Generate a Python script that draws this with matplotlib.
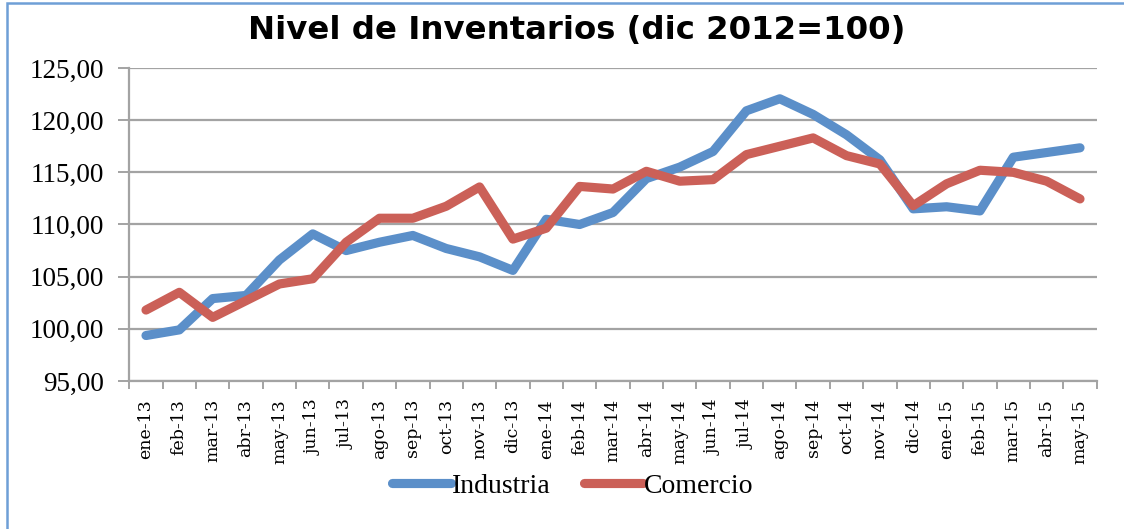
import matplotlib
matplotlib.use("Agg")
import matplotlib.pyplot as plt
from matplotlib.ticker import FixedLocator, FuncFormatter
from matplotlib.patches import Rectangle

months = ["ene-13", "feb-13", "mar-13", "abr-13", "may-13", "jun-13", "jul-13", "ago-13",
          "sep-13", "oct-13", "nov-13", "dic-13", "ene-14", "feb-14", "mar-14", "abr-14",
          "may-14", "jun-14", "jul-14", "ago-14", "sep-14", "oct-14", "nov-14", "dic-14",
          "ene-15", "feb-15", "mar-15", "abr-15", "may-15"]
industria = [99.36, 99.9, 102.9, 103.2, 106.6, 109.1, 107.5, 108.3, 108.95, 107.7, 106.9, 105.6,
             110.5, 110.0, 111.15, 114.4, 115.5, 117.0, 120.9, 122.05, 120.55, 118.6, 116.2,
             111.5, 111.7, 111.3, 116.45, 116.9, 117.35]
comercio = [101.8, 103.5, 101.1, 102.7, 104.3, 104.8, 108.3, 110.6, 110.6, 111.75, 113.6, 108.6,
            109.65, 113.65, 113.4, 115.1, 114.15, 114.3, 116.7, 117.5, 118.3, 116.6, 115.8,
            111.8, 113.9, 115.2, 115.0, 114.15, 112.45]
yticks = [95, 100, 105, 110, 115, 120, 125]
title = "Nivel de Inventarios (dic 2012=100)"

W, H = 1124, 529
fig = plt.figure(figsize=(W / 100, H / 100), dpi=100)
ax = fig.add_axes([129.3 / W, 1 - 381 / H, (1096.7 - 129.3) / W, (381 - 68) / H])

blue = "#5b8fc9"
red = "#cb6058"
grid_c = "#a3a3a3"
x = list(range(len(months)))
kw = dict(linewidth=6.6, solid_capstyle="round", solid_joinstyle="round")
ax.plot(x, industria, color=blue, label="Industria", **kw)
ax.plot(x, comercio, color=red, label="Comercio", **kw)

ax.set_xlim(-0.5, len(months) - 0.5)
ax.set_ylim(95, 125)
ax.set_yticks(yticks)
ax.yaxis.set_major_formatter(FuncFormatter(lambda v, p: f"{v:.2f}".replace(".", ",")))
ax.yaxis.grid(True, color=grid_c, linewidth=1.6)
ax.set_axisbelow(True)

ax.set_xticks(x)
ax.set_xticklabels(months, rotation=90, fontfamily="DejaVu Serif", fontsize=12.5)
ax.xaxis.set_minor_locator(FixedLocator([i - 0.5 for i in range(len(months) + 1)]))
ax.tick_params(axis="x", which="major", length=0, pad=13)
ax.tick_params(axis="x", which="minor", length=6, width=1.4, color=grid_c, direction="out")
ax.tick_params(axis="y", length=8, width=1.4, color=grid_c, direction="out", pad=10)
for lab in ax.get_yticklabels():
    lab.set_fontfamily("Liberation Serif")
    lab.set_fontsize(19.5)

for s in ["top", "right"]:
    ax.spines[s].set_visible(False)
for s in ["left", "bottom"]:
    ax.spines[s].set_color(grid_c)
    ax.spines[s].set_linewidth(1.6)

fig.text(577 / W, 1 - 31 / H, title, ha="center", va="center",
         fontfamily="DejaVu Sans", fontweight="bold", fontsize=23.3)

leg = fig.legend(loc="center", bbox_to_anchor=(573 / W, 1 - 486 / H), ncol=2, frameon=False,
                 prop={"family": "Liberation Serif", "size": 20}, handlelength=2.1,
                 handletextpad=0.05, columnspacing=1.2)

fig.patches.append(Rectangle((7 / W, -0.1), 1.2, 1.1 - 3.5 / H, transform=fig.transFigure,
                             fill=False, edgecolor="#6e9fd6", linewidth=1.8))

fig.savefig("out.png", dpi=100)
